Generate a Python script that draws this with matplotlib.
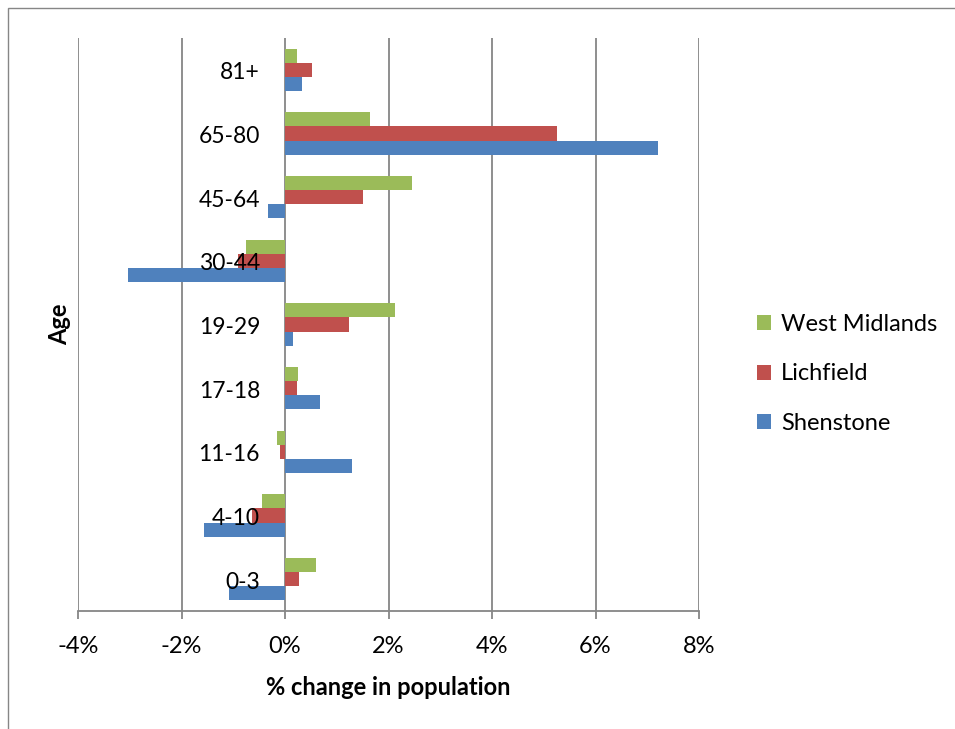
import matplotlib
matplotlib.use("Agg")
import matplotlib.pyplot as plt
import matplotlib.transforms as mtransforms
from matplotlib.patches import Rectangle
import numpy as np

plt.rcParams['font.family'] = ['Lato', 'DejaVu Sans']

ages = ["0-3", "4-10", "11-16", "17-18", "19-29", "30-44", "45-64", "65-80", "81+"]
shenstone = [-1.08, -1.57, 1.30, 0.67, 0.15, -3.04, -0.33, 7.20, 0.33]
lichfield = [0.27, -0.63, -0.10, 0.23, 1.24, -0.91, 1.50, 5.26, 0.53]
west_midlands = [0.60, -0.44, -0.15, 0.25, 2.12, -0.75, 2.46, 1.64, 0.24]
x_ticks = [-4, -2, 0, 2, 4, 6, 8]

c_blue = "#4F81BD"
c_red = "#C0504D"
c_green = "#9BBB59"
grid_c = "#868686"
fs = 17

fig = plt.figure(figsize=(9.55, 7.29), dpi=100)
ax = fig.add_axes([78 / 955, 118 / 729, 621 / 955, 573 / 729])

y = np.arange(len(ages))
h = 0.22
b1 = ax.barh(y - h, shenstone, height=h, color=c_blue, label="Shenstone", zorder=3)
b2 = ax.barh(y, lichfield, height=h, color=c_red, label="Lichfield", zorder=3)
b3 = ax.barh(y + h, west_midlands, height=h, color=c_green, label="West Midlands", zorder=3)

ax.set_xlim(-4, 8)
ax.set_ylim(-0.5, len(ages) - 0.5)
ax.set_xticks(x_ticks)
ax.set_xticklabels([f"{v}%" for v in x_ticks], fontsize=fs)
ax.set_yticks([])
for v in x_ticks:
    ax.axvline(v, color=grid_c, lw=1.3, zorder=1)

for s in ["top", "right", "left"]:
    ax.spines[s].set_visible(False)
ax.spines["bottom"].set_color(grid_c)
ax.spines["bottom"].set_linewidth(1.3)
ax.tick_params(axis="x", direction="out", length=6, width=1.3, color=grid_c, pad=12)

# category labels sit just left of the 0% line, drawn over the bars
lab_tr = mtransforms.offset_copy(ax.transData, fig=fig, x=-25, y=-3, units="dots")
for yi, name in zip(y, ages):
    ax.text(0, yi, name, transform=lab_tr, ha="right", va="center", fontsize=16.5, zorder=5)

ax.set_xlabel("% change in population", fontsize=fs, fontweight="bold", labelpad=14)
fig.text(60 / 955, 1 - 324 / 729, "Age", rotation=90, ha="center", va="center",
         fontsize=fs, fontweight="bold")

ax.legend(handles=[b3, b2, b1], loc="center left", bbox_to_anchor=(736 / 955, 1 - 374 / 729),
          bbox_transform=fig.transFigure, frameon=False, fontsize=fs,
          handlelength=0.6, handleheight=0.6, handletextpad=0.4, labelspacing=1.2)

fig.patches.append(Rectangle((8 / 955, -0.05), 1.2, 1.05 - 8 / 729,
                             transform=fig.transFigure, fill=False, edgecolor=grid_c, lw=1.0))

fig.savefig("out.png", dpi=100, facecolor="white")
